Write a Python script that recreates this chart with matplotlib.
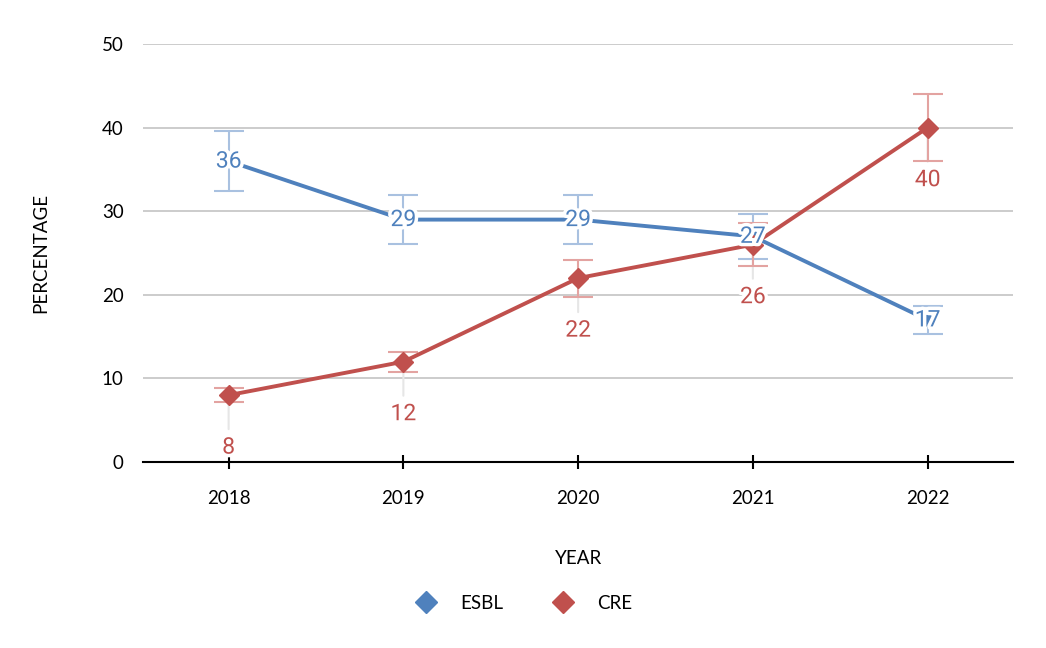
import matplotlib
matplotlib.use("Agg")
import matplotlib.pyplot as plt
import matplotlib.patheffects as pe
from matplotlib.lines import Line2D

# data
years = ["2018", "2019", "2020", "2021", "2022"]
esbl = [36, 29, 29, 27, 17]
esbl_err = [3.6, 2.9, 2.9, 2.7, 1.7]
cre = [8, 12, 22, 26, 40]
cre_err = [0.8, 1.2, 2.2, 2.6, 4.0]

blue = "#4f81bd"
red = "#c0504d"
blue_err = "#a9c1e0"
red_err = "#e3a3a1"

plt.rcParams['font.family'] = ['Lato', 'DejaVu Sans']

fig = plt.figure(figsize=(10.46, 6.48), dpi=100)
ax = fig.add_axes([0.1367, 0.287, 0.832, 0.645])

x = list(range(len(years)))

# ESBL
ax.errorbar(x, esbl, yerr=esbl_err, fmt='none', ecolor=blue_err,
            elinewidth=1.5, capsize=11, capthick=1.5, zorder=2)
ax.plot(x, esbl, color=blue, lw=2.8, marker='D', ms=7, zorder=3)

# CRE - leader lines to the labels first, then error bars and line
for xi, v in zip(x, cre):
    ax.annotate("", xy=(xi, v), xytext=(0, -34), textcoords='offset pixels',
                arrowprops=dict(arrowstyle='-', color='#e6e6e6', lw=1.5,
                                shrinkA=0, shrinkB=0), zorder=1)
ax.errorbar(x, cre, yerr=cre_err, fmt='none', ecolor=red_err,
            elinewidth=1.5, capsize=11, capthick=1.5, zorder=2)
ax.plot(x, cre, color=red, lw=2.8, marker='D', ms=10, zorder=4)

halo = [pe.withStroke(linewidth=5, foreground='white')]
for xi, v in zip(x, esbl):
    ax.annotate(str(v), (xi, v), ha='center', va='center', color=blue,
                fontsize=16.5, family='Roboto', path_effects=halo, zorder=6)
for xi, v in zip(x, cre):
    ax.annotate(str(v), (xi, v), xytext=(0, -52), textcoords='offset pixels',
                ha='center', va='center', color=red, fontsize=16.5,
                family='Roboto', path_effects=halo, zorder=6)

ax.set_xlim(-0.49, 4.49)
ax.set_ylim(0, 50)
ax.set_yticks([0, 10, 20, 30, 40, 50])
ax.set_xticks(x)
ax.set_xticklabels(years)
ax.grid(axis='y', color='#c8c8c8', lw=1.3)
ax.set_axisbelow(True)
for s in ['top', 'right', 'left']:
    ax.spines[s].set_visible(False)
ax.spines['bottom'].set_linewidth(1.5)
ax.tick_params(axis='y', length=0, pad=14, labelsize=13.5)
ax.tick_params(axis='x', length=10, width=1.5, direction='inout', pad=15, labelsize=13.5)

ax.set_xlabel("YEAR", fontsize=13.5, labelpad=31)
ax.set_ylabel("PERCENTAGE", fontsize=13.5, labelpad=38)

handles = [Line2D([], [], color=blue, marker='D', ls='none', ms=11),
           Line2D([], [], color=red, marker='D', ls='none', ms=11)]
fig.legend(handles, ["ESBL", "CRE"], loc='center', bbox_to_anchor=(0.497, 0.069),
           ncol=2, frameon=False, fontsize=13.5, handletextpad=0.8, columnspacing=2.2)

fig.savefig("out.png", dpi=100)
